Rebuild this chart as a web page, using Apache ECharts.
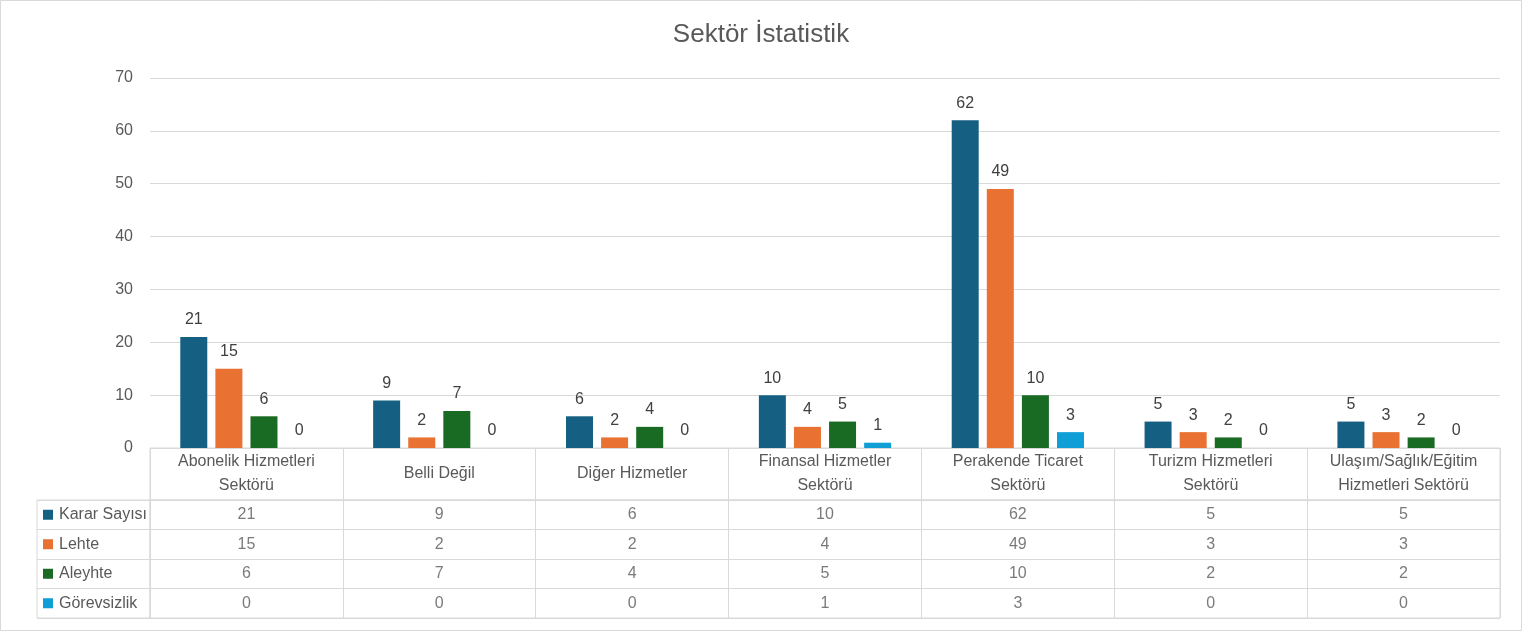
<!DOCTYPE html>
<html><head><meta charset="utf-8">
<script src="https://cdn.jsdelivr.net/npm/echarts@6/dist/echarts.min.js"></script>
<style>html,body{margin:0;padding:0;background:#fff}#c{width:1522px;height:631px}</style>
</head><body><div id="c"></div>
<script>
const titleText = 'Sektör İstatistik';
const categories = ['Abonelik Hizmetleri\nSektörü', 'Belli Değil', 'Diğer Hizmetler', 'Finansal Hizmetler\nSektörü', 'Perakende Ticaret\nSektörü', 'Turizm Hizmetleri\nSektörü', 'Ulaşım/Sağlık/Eğitim\nHizmetleri Sektörü'];
const seriesNames = ['Karar Sayısı', 'Lehte', 'Aleyhte', 'Görevsizlik'];
const kararSayisi = [21, 9, 6, 10, 62, 5, 5];
const lehte = [15, 2, 2, 4, 49, 3, 3];
const aleyhte = [6, 7, 4, 5, 10, 2, 2];
const gorevsizlik = [0, 0, 0, 1, 3, 0, 0];
const yMin = 0, yMax = 70, yInterval = 10;
const colors = ['#156082', '#E97132', '#196B24', '#0F9ED5'];

const allValues = [kararSayisi, lehte, aleyhte, gorevsizlik];
const FONT = '"Liberation Sans", Arial, sans-serif';
const TXT = '#595959';
const LINE = '#D9D9D9';

const rich = {t: {color: TXT, fontSize: 16, fontFamily: FONT, padding: [0, 0, 0, 6]}};
colors.forEach((c, i) => { rich['sq' + i] = {width: 10, height: 10, backgroundColor: c}; });

const barSeries = allValues.map((vals, i) => ({
  type: 'bar', name: seriesNames[i], data: vals, xAxisIndex: 0, yAxisIndex: 0,
  barWidth: 27, barGap: '30%',
  itemStyle: {color: colors[i]},
  label: {show: true, position: 'top', distance: 9, color: '#404040', fontSize: 16, fontFamily: FONT},
  silent: true, animation: false
}));

const tableSeries = allValues.map((vals, r) => ({
  type: 'scatter', xAxisIndex: 2, yAxisIndex: 2,
  data: vals.map((v, i) => [i, r, v]),
  symbolSize: 1, itemStyle: {color: 'rgba(0,0,0,0)'},
  label: {show: true, position: 'inside', formatter: p => String(p.data[2]), color: TXT, fontSize: 16, fontFamily: FONT},
  silent: true, animation: false
}));

const option = {
  animation: false,
  backgroundColor: '#fff',
  title: {text: titleText, left: 'center', top: 17, textStyle: {color: TXT, fontSize: 26, fontWeight: 'normal', fontFamily: FONT}},
  graphic: [{type: 'rect', shape: {x: 0.5, y: 0.5, width: 1521, height: 630}, style: {fill: 'none', stroke: LINE, lineWidth: 1}, silent: true}],
  grid: [
    {left: 150, width: 1350, top: 78, height: 370},
    {left: 150, width: 1350, top: 448, height: 52, show: true, borderColor: LINE, borderWidth: 1},
    {left: 150, width: 1350, top: 500, height: 118, show: true, borderColor: LINE, borderWidth: 1},
    {left: 37, width: 113, top: 500, height: 118, show: true, borderColor: LINE, borderWidth: 1}
  ],
  xAxis: [
    {gridIndex: 0, type: 'category', data: categories, axisLine: {show: false}, axisTick: {show: false}, axisLabel: {show: false}},
    {gridIndex: 1, type: 'category', data: categories, position: 'top', axisLine: {lineStyle: {color: LINE}}, axisTick: {show: false},
      splitLine: {show: true, interval: 0, lineStyle: {color: LINE}},
      axisLabel: {interval: 0, inside: true, margin: 26, verticalAlign: 'middle', lineHeight: 24, color: TXT, fontSize: 16, fontFamily: FONT}},
    {gridIndex: 2, type: 'category', data: categories, axisLine: {show: false}, axisTick: {show: false}, axisLabel: {show: false},
      splitLine: {show: true, interval: 0, lineStyle: {color: LINE}}},
    {gridIndex: 3, type: 'value', show: false, min: 0, max: 1}
  ],
  yAxis: [
    {gridIndex: 0, type: 'value', min: yMin, max: yMax, interval: yInterval, axisLine: {show: false}, axisTick: {show: false},
      splitLine: {lineStyle: {color: LINE, width: 1}}, axisLabel: {margin: 17, color: TXT, fontSize: 16, fontFamily: FONT}},
    {gridIndex: 1, type: 'value', show: false, min: 0, max: 1},
    {gridIndex: 2, type: 'category', data: seriesNames, inverse: true, axisLine: {show: false}, axisTick: {show: false}, axisLabel: {show: false},
      splitLine: {show: true, interval: 0, lineStyle: {color: LINE}}},
    {gridIndex: 3, type: 'category', data: seriesNames, inverse: true, axisLine: {show: false}, axisTick: {show: false},
      splitLine: {show: true, interval: 0, lineStyle: {color: LINE}},
      axisLabel: {inside: true, margin: 6, align: 'left', interval: 0,
        formatter: (v, i) => '{sq' + i + '|}{t|' + v + '}', rich: rich}}
  ],
  series: barSeries.concat(tableSeries)
};
const chart = echarts.init(document.getElementById('c'), null, {renderer: 'canvas'});
chart.setOption(option);
</script></body></html>
